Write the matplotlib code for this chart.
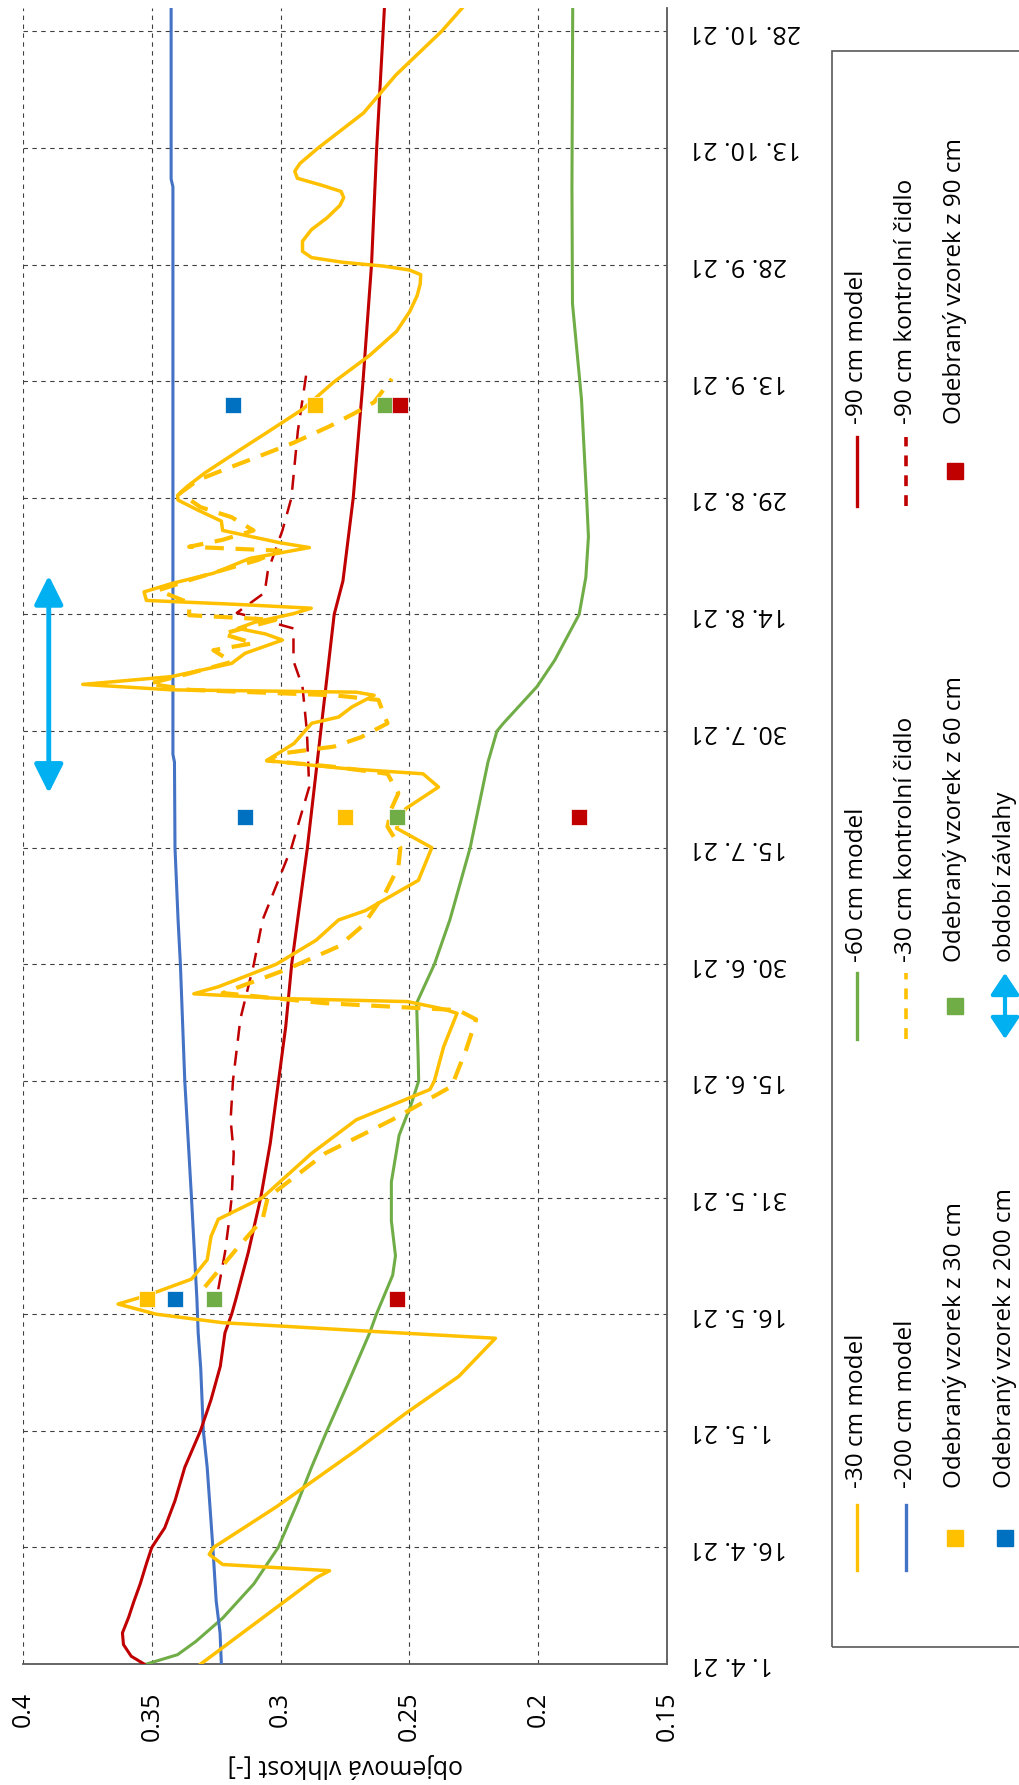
import numpy as np
import pandas as pd
import matplotlib
matplotlib.use("Agg")
import matplotlib.pyplot as plt
from matplotlib.lines import Line2D
from matplotlib.patches import Rectangle, FancyArrowPatch

plt.rcParams['font.family'] = ['Open Sans', 'DejaVu Sans']

START = pd.Timestamp('2021-04-01')

# -30 cm model (days from 1. 4. 21, volumetric moisture)
d30 = [0, 11.1, 12, 12.8, 14.1, 15, 20.2, 27.5, 32.2, 37, 41.9, 42.8, 43.9, 45, 46.3,
       47.4, 49.5, 52, 55, 57.2, 60, 65.7, 70, 73.9, 75, 79.4, 83.7, 84.3, 85.2, 85.6,
       86.2, 87.1, 90, 93.1, 95.7, 96.9, 100.8, 105, 107.5, 110, 112.8, 114.5, 115.2,
       116.2, 116.6, 118.4, 121, 121.8, 123.1, 124.6, 125, 125.3, 126, 127, 128.7, 130,
       131.7, 132.5, 133.2, 134, 135.1, 135.8, 136.3, 136.8, 137.9, 139, 140.3, 142.2,
       143.6, 144.2, 145.8, 147, 148.4, 149.7, 150.3, 151.4, 153.2, 156.2, 158.4, 161.4,
       164.9, 168.3, 171.4, 174, 176, 177.5, 178.7, 179.3, 179.8, 180.3, 180.9, 181.7,
       183, 184.5, 186, 187.6, 188.6, 189.4, 190.2, 191.1, 192, 193, 195, 199.5, 204.4,
       210, 213.3]
v30 = [0.331, 0.2861, 0.281, 0.3225, 0.3277, 0.326, 0.3017, 0.2706, 0.2516, 0.2308, 0.2166,
       0.2654, 0.3225, 0.3484, 0.3631, 0.3519, 0.3346, 0.3285, 0.327, 0.3242, 0.307, 0.2879,
       0.2706, 0.242, 0.2403, 0.2367, 0.2315, 0.2375, 0.2507, 0.300, 0.3337, 0.3242, 0.3017,
       0.2862, 0.2775, 0.2671, 0.2465, 0.2413, 0.2550, 0.2515, 0.2387, 0.2447, 0.2759,
       0.3053, 0.3035, 0.2948, 0.2879, 0.2775, 0.2723, 0.2637, 0.2706, 0.3424, 0.3768,
       0.3424, 0.3190, 0.3138, 0.2993, 0.3060, 0.3166, 0.3100, 0.2950, 0.2881, 0.3175,
       0.3521, 0.3530, 0.3420, 0.3260, 0.3120, 0.2888, 0.3000, 0.3225, 0.3230, 0.3320,
       0.3398, 0.3400, 0.3365, 0.3294, 0.3156, 0.3053, 0.2914, 0.2793, 0.2655, 0.2550,
       0.2498, 0.2470, 0.2458, 0.2456, 0.2500, 0.2600, 0.2760, 0.2880, 0.2915, 0.2915,
       0.2880, 0.2820, 0.2770, 0.2755, 0.2765, 0.2840, 0.2935, 0.2945, 0.2925, 0.2854,
       0.2678, 0.2552, 0.2375, 0.2287]

# -60 cm model
d60 = [0, 1.2, 2.9, 5.9, 10.3, 15, 21, 25.3, 30, 36, 42.6, 45, 50, 52.5, 57, 62, 68, 72,
       75, 78, 85, 90, 95.7, 105, 116, 120, 121, 125.7, 129.1, 135, 139.8, 145, 150,
       162.7, 175, 190, 213]
v60 = [0.352, 0.340, 0.3329, 0.3225, 0.3104, 0.3009, 0.2931, 0.288, 0.282, 0.274, 0.2654,
       0.2628, 0.2565, 0.2554, 0.2570, 0.2570, 0.2540, 0.2493, 0.2464, 0.2466, 0.2472,
       0.2403, 0.2343, 0.2264, 0.2195, 0.2160, 0.2135, 0.2005, 0.1936, 0.1841, 0.1815,
       0.1805, 0.1812, 0.1832, 0.1867, 0.1869, 0.1866]

# -90 cm model
d90 = [0, 1, 2.5, 4, 6, 8, 10.3, 13, 15, 17.5, 21, 25.3, 30, 34, 38.3, 42.6, 45, 47, 53,
       60, 67, 75, 82, 90, 95.7, 105, 120, 135, 139.3, 150, 165, 180, 195, 210, 213]
v90 = [0.353, 0.358, 0.361, 0.3614, 0.359, 0.357, 0.3545, 0.352, 0.350, 0.345, 0.341,
       0.3372, 0.3311, 0.327, 0.3234, 0.3216, 0.319, 0.3173, 0.3125, 0.3077, 0.304, 0.3008,
       0.298, 0.2957, 0.2934, 0.2896, 0.2844, 0.2792, 0.2758, 0.2718, 0.268, 0.2647,
       0.2627, 0.2602, 0.2597]

# -200 cm model
d200 = [0, 4, 8.1, 15, 25.3, 30, 38, 42.6, 47, 60, 75, 90, 95.7, 105, 116, 117, 190, 191, 213]
v200 = [0.323, 0.3235, 0.325, 0.3263, 0.3285, 0.330, 0.331, 0.332, 0.3325, 0.3346, 0.3372,
        0.3389, 0.3398, 0.341, 0.3412, 0.3418, 0.3418, 0.3425, 0.3425]

# -30 cm kontrolní čidlo
s30_d = [48.5, 53.3, 57.2, 60, 65.7, 70, 74.3, 79, 82.9, 84.1, 85, 86.3, 89.3, 92.3, 95,
         99.1, 102.5, 105, 107.7, 110, 112, 114.5, 115.4, 116.2, 117.1, 118, 119.2, 121,
         122.2, 124, 124.6, 125.3, 126.1, 127.4, 128.9, 130.4, 131.3, 132.5, 134.3, 134.9,
         136.5, 138.1, 139.4, 140.7, 142, 143.2, 143.7, 144.6, 145.8, 147.5, 148.8, 150.6,
         152.3, 154, 155.3, 157.1, 159.2, 161, 162.3, 165.3]
s30_v = [0.3294, 0.3173, 0.3070, 0.3050, 0.2826, 0.2567, 0.2336, 0.2280, 0.2241, 0.2310,
         0.2830, 0.3225, 0.2980, 0.2775, 0.2680, 0.2595, 0.2543, 0.2535, 0.2585, 0.2570,
         0.2543, 0.2585, 0.2793, 0.3053, 0.3000, 0.2793, 0.2688, 0.2585, 0.2600, 0.2620,
         0.2793, 0.3355, 0.3511, 0.3355, 0.3190, 0.3261, 0.3105, 0.3225, 0.3020, 0.3355,
         0.3355, 0.3476, 0.3355, 0.3225, 0.3088, 0.3003, 0.3355, 0.3225, 0.3105, 0.3190,
         0.3311, 0.3390, 0.3320, 0.3190, 0.3087, 0.2948, 0.2810, 0.2706, 0.2637, 0.2568]

# -90 cm kontrolní čidlo
s90_d = [48.2, 52.9, 57, 60, 65.7, 70, 75, 83, 90, 95.7, 105, 112.8, 120, 125.7, 129,
         133.2, 135.2, 137.8, 140.5, 145.8, 150, 158.6, 166.2]
s90_v = [0.3242, 0.3216, 0.3200, 0.3190, 0.3182, 0.3194, 0.3185, 0.3156, 0.3104, 0.3070,
         0.2958, 0.2889, 0.2898, 0.2915, 0.2950, 0.2950, 0.3170, 0.3062, 0.3050, 0.2993,
         0.2958, 0.2933, 0.2899]

# odebrané vzorky (18. 5., 19. 7., 10. 9.)
vz_dny = [47, 109, 162]
vz30 = [0.352, 0.275, 0.2865]
vz60 = [0.326, 0.255, 0.2595]
vz90 = [0.255, 0.184, 0.2535]
vz200 = [0.341, 0.314, 0.3185]

# období závlahy
zavlaha_dny = [112, 140]
zavlaha_v = 0.39

YEL = '#FFC000'
GRN = '#70AD47'
RED = '#C00000'
BLU = '#4472C4'
BLU2 = '#0070C0'
CYA = '#00B0F0'


def dny(d):
    return (START + pd.to_timedelta(np.asarray(d, dtype=float), unit='D')).to_numpy()


W, H = 1019, 1785
fig = plt.figure(figsize=(W / 100, H / 100), dpi=100)
ax = fig.add_axes([23 / W, 121 / H, 644 / W, 1656 / H])

ax.plot(v60, dny(d60), color=GRN, lw=2.2, zorder=3)
ax.plot(v200, dny(d200), color=BLU, lw=2.2, zorder=3)
ax.plot(v90, dny(d90), color=RED, lw=2.2, zorder=3)
ax.plot(s90_v, dny(s90_d), color=RED, lw=1.8, dashes=(6, 4), zorder=3)
ax.plot(s30_v, dny(s30_d), color=YEL, lw=3.0, dashes=(4.5, 2.8), zorder=4)
ax.plot(v30, dny(d30), color=YEL, lw=2.5, zorder=4)

for vals, col in [(vz30, YEL), (vz200, BLU2), (vz60, GRN), (vz90, RED)]:
    ax.plot(vals, dny(vz_dny), ls='none', marker='s', ms=11.5, color=col,
            mec='white', mew=0.5, zorder=5)

zd = dny(zavlaha_dny)
ax.annotate('', xy=(zavlaha_v, zd[1]), xytext=(zavlaha_v, zd[0]),
            arrowprops=dict(arrowstyle='<|-|>,head_length=0.7,head_width=0.35',
                            color=CYA, lw=3.5, mutation_scale=25,
                            shrinkA=0, shrinkB=0), zorder=5)

ax.set_xlim(0.4, 0.15)
ax.set_ylim(np.datetime64('2021-04-01'), np.datetime64('2021-10-31'))

xt = [0.4, 0.35, 0.3, 0.25, 0.2, 0.15]
ax.set_xticks(xt)
ax.set_xticklabels(['0.4', '0.35', '0.3', '0.25', '0.2', '0.15'], rotation=90,
                   va='top', ha='center', fontsize=18)
ax.tick_params(axis='x', length=0, pad=20)

tdates = pd.date_range('2021-04-01', '2021-10-28', freq='15D')
ax.yaxis.tick_right()
ax.set_yticks(tdates.to_numpy())
ax.set_yticklabels([f"{d.day}. {d.month}. {d:%y}" for d in tdates], rotation=180,
                   ha='left', va='center', fontsize=18)
ax.tick_params(axis='y', length=0, pad=16)

ax.grid(True, color='#404040', lw=0.8, ls=(0, (4, 4)))
ax.set_axisbelow(True)
for s in ['top', 'left']:
    ax.spines[s].set_visible(False)
for s in ['bottom', 'right']:
    ax.spines[s].set_color('#595959')
    ax.spines[s].set_linewidth(1.3)

fig.text(345 / W, 1 - 1765 / H, 'objemová vlhkost [-]', rotation=180,
         ha='center', va='center', fontsize=18)


# legenda (otočená)
def fx(x):
    return x / W


def fy(y):
    return 1 - y / H


fig.add_artist(Rectangle((fx(832), fy(1647)), fx(1040) - fx(832), fy(51) - fy(1647),
                         transform=fig.transFigure, fill=False, ec='#595959', lw=1.2))

radky = [857, 906, 955, 1005]
sloupce = [(1570, 1505, 1488), (1039, 973, 962), (506, 437, 424)]
polozky = [
    (0, 0, 'line', YEL, '-30 cm model'),
    (0, 1, 'line', GRN, '-60 cm model'),
    (0, 2, 'line', RED, '-90 cm model'),
    (1, 0, 'line', BLU, '-200 cm model'),
    (1, 1, 'dash', YEL, '-30 cm kontrolní čidlo'),
    (1, 2, 'dash', RED, '-90 cm kontrolní čidlo'),
    (2, 0, 'square', YEL, 'Odebraný vzorek z 30 cm'),
    (2, 1, 'square', GRN, 'Odebraný vzorek z 60 cm'),
    (2, 2, 'square', RED, 'Odebraný vzorek z 90 cm'),
    (3, 0, 'square', BLU2, 'Odebraný vzorek z 200 cm'),
    (3, 1, 'arrow', CYA, 'období závlahy'),
]
for r, c, typ, col, txt in polozky:
    x = radky[r]
    y0, y1, yt = sloupce[c]
    if typ == 'line':
        fig.add_artist(Line2D([fx(x), fx(x)], [fy(y0), fy(y1)], color=col, lw=2.4,
                              transform=fig.transFigure))
    elif typ == 'dash':
        fig.add_artist(Line2D([fx(x), fx(x)], [fy(y0), fy(y1)], color=col, lw=2.6,
                              dashes=(3, 2.5), transform=fig.transFigure))
    elif typ == 'square':
        fig.add_artist(Line2D([fx(x)], [fy((y0 + y1) / 2)], color=col, marker='s',
                              ms=11, ls='none', transform=fig.transFigure))
    else:
        fig.add_artist(FancyArrowPatch((fx(x), fy(y0)), (fx(x), fy(y1)),
                                       transform=fig.transFigure, color=col,
                                       arrowstyle='<|-|>,head_length=0.6,head_width=0.4',
                                       mutation_scale=22, lw=3, shrinkA=0, shrinkB=0))
    fig.text(fx(x), fy(yt), txt, rotation=90, ha='center', va='bottom', fontsize=17.5)

fig.savefig('out.png', dpi=100)
